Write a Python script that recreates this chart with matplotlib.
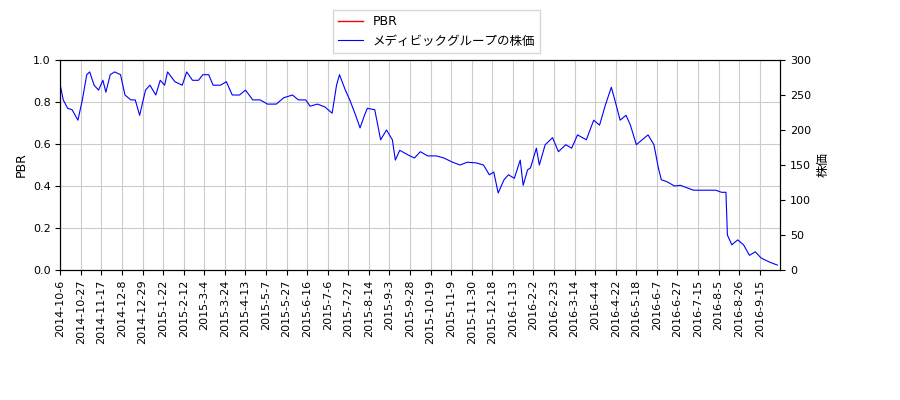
import matplotlib
matplotlib.use('Agg')
import matplotlib.pyplot as plt

plt.rcParams['font.family'] = ['DejaVu Sans', 'Noto Sans CJK JP']

# trading-day index and stock price
day = [0, 2, 5, 8, 12, 15, 18, 20, 23, 26, 29, 31, 34, 37, 41, 44, 48, 51, 54, 58,
       61, 65, 68, 71, 73, 78, 83, 86, 90, 94, 97, 101, 104, 109, 113, 117, 122, 126,
       131, 136, 141, 147, 152, 158, 162, 167, 170, 175, 180, 185, 188, 190, 194, 197,
       201, 204, 207, 209, 214, 218, 222, 226, 228, 231, 237, 241, 245, 250, 256, 261,
       267, 272, 277, 283, 288, 292, 295, 298, 302, 305, 309, 313, 315, 318, 320, 324,
       326, 330, 335, 339, 344, 348, 352, 358, 363, 367, 371, 375, 377, 381, 385, 388,
       392, 396, 400, 404, 407, 409, 413, 418, 422, 427, 431, 437, 442, 446, 450, 453,
       454, 457, 461, 465, 469, 473, 477, 483, 488]
price = [264, 243, 231, 229, 214, 243, 279, 283, 264, 257, 271, 254, 279, 283, 279, 250,
         243, 243, 221, 257, 264, 250, 271, 264, 283, 269, 264, 283, 271, 271, 279, 279,
         264, 264, 269, 250, 250, 257, 243, 243, 237, 237, 246, 250, 243, 243, 234, 237,
         233, 224, 264, 279, 257, 243, 221, 203, 221, 231, 229, 186, 200, 186, 157, 171,
         164, 160, 169, 163, 163, 160, 154, 150, 154, 153, 150, 136, 140, 110, 129, 136,
         131, 157, 121, 143, 146, 174, 150, 179, 189, 169, 179, 174, 193, 186, 214, 207,
         236, 261, 246, 214, 221, 207, 179, 186, 193, 179, 146, 129, 126, 120, 121, 117,
         114, 114, 114, 114, 111, 111, 50, 36, 43, 36, 21, 26, 17, 11, 7]

tick_labels = ['2014-10-6', '2014-10-27', '2014-11-17', '2014-12-8', '2014-12-29',
               '2015-1-22', '2015-2-12', '2015-3-4', '2015-3-24', '2015-4-13',
               '2015-5-7', '2015-5-27', '2015-6-16', '2015-7-6', '2015-7-27',
               '2015-8-14', '2015-9-3', '2015-9-28', '2015-10-19', '2015-11-9',
               '2015-11-30', '2015-12-18', '2016-1-13', '2016-2-2', '2016-2-23',
               '2016-3-14', '2016-4-4', '2016-4-22', '2016-5-18', '2016-6-7',
               '2016-6-27', '2016-7-15', '2016-8-5', '2016-8-26', '2016-9-15']
tick_pos = [i * 14 for i in range(len(tick_labels))]

fig = plt.figure(figsize=(9, 4), dpi=100)
ax = fig.add_axes([0.067, 0.325, 0.8, 0.525])
ax2 = ax.twinx()

l1, = ax.plot([], [], color='red', lw=1, label='PBR')
l2, = ax2.plot(day, price, color='blue', lw=0.8, label='メディビックグループの株価')

ax.set_xlim(0, 490)
ax.set_ylim(0, 1.0)
ax2.set_ylim(0, 300)
ax.set_xticks(tick_pos)
ax.set_xticklabels(tick_labels, rotation=90, fontsize=8)
ax.tick_params(axis='y', labelsize=8)
ax2.tick_params(axis='y', labelsize=8)
ax.set_ylabel('PBR', fontsize=9)
ax2.set_ylabel('株価', fontsize=9)
ax.grid(True, color='#cccccc')

fig.legend([l1, l2], ['PBR', 'メディビックグループの株価'], loc='upper center',
           bbox_to_anchor=(0.485, 0.99), fontsize=9, fancybox=False)

fig.savefig('out.png', dpi=100)
